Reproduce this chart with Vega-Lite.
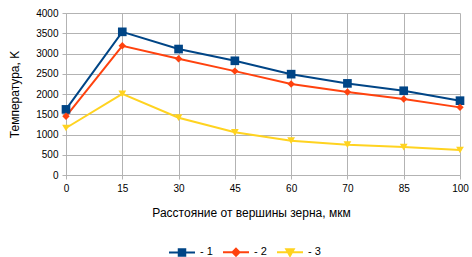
{
  "$schema": "https://vega.github.io/schema/vega-lite/v6.json",
  "width": 394,
  "height": 162,
  "autosize": "none",
  "padding": {"left": 66, "top": 13, "right": 12, "bottom": 82},
  "background": "white",
  "config": {
    "font": "Liberation Sans",
    "view": {"stroke": null},
    "axis": {
      "labelFont": "Liberation Sans",
      "titleFont": "Liberation Sans",
      "labelFontSize": 10,
      "titleFontSize": 12,
      "labelColor": "#000000",
      "titleColor": "#000000",
      "titleFontWeight": "normal",
      "gridColor": "#b3b3b3",
      "domainColor": "#b3b3b3",
      "tickColor": "#b3b3b3",
      "tickSize": 4
    },
    "legend": {"labelFont": "Liberation Sans", "labelFontSize": 11, "labelColor": "#000000"}
  },
  "data": {
    "values": [
      {"x": "0", "s": "- 1", "t": 1620},
      {"x": "15", "s": "- 1", "t": 3535},
      {"x": "30", "s": "- 1", "t": 3110},
      {"x": "45", "s": "- 1", "t": 2820},
      {"x": "60", "s": "- 1", "t": 2490},
      {"x": "70", "s": "- 1", "t": 2262},
      {"x": "85", "s": "- 1", "t": 2080},
      {"x": "100", "s": "- 1", "t": 1835},
      {"x": "0", "s": "- 2", "t": 1450},
      {"x": "15", "s": "- 2", "t": 3190},
      {"x": "30", "s": "- 2", "t": 2870},
      {"x": "45", "s": "- 2", "t": 2565},
      {"x": "60", "s": "- 2", "t": 2247},
      {"x": "70", "s": "- 2", "t": 2050},
      {"x": "85", "s": "- 2", "t": 1877},
      {"x": "100", "s": "- 2", "t": 1670},
      {"x": "0", "s": "- 3", "t": 1160},
      {"x": "15", "s": "- 3", "t": 2005},
      {"x": "30", "s": "- 3", "t": 1415},
      {"x": "45", "s": "- 3", "t": 1054},
      {"x": "60", "s": "- 3", "t": 847},
      {"x": "70", "s": "- 3", "t": 748},
      {"x": "85", "s": "- 3", "t": 690},
      {"x": "100", "s": "- 3", "t": 617}
    ]
  },
  "encoding": {
    "x": {
      "field": "x",
      "type": "ordinal",
      "sort": ["0", "15", "30", "45", "60", "70", "85", "100"],
      "scale": {"type": "point", "padding": 0},
      "axis": {
        "title": "Расстояние от вершины зерна, мкм",
        "labelAngle": 0,
        "grid": true,
        "labelPadding": 4,
        "titleX": 185,
        "titlePadding": 14
      }
    },
    "y": {
      "field": "t",
      "type": "quantitative",
      "scale": {"domain": [0, 4000], "nice": false},
      "axis": {
        "title": "Температура, K",
        "values": [0, 500, 1000, 1500, 2000, 2500, 3000, 3500, 4000],
        "format": "d",
        "grid": true,
        "labelPadding": 4,
        "titlePadding": 14
      }
    },
    "color": {
      "field": "s",
      "type": "nominal",
      "scale": {"domain": ["- 1", "- 2", "- 3"], "range": ["#004586", "#ff420e", "#ffd320"]},
      "legend": {
        "title": null,
        "orient": "none",
        "direction": "horizontal",
        "legendX": 110,
        "legendY": 233,
        "symbolSize": 100,
        "labelOffset": 12,
        "columnPadding": 6,
        "symbolStrokeWidth": 2,
        "symbolOpacity": 1,
        "encode": {
          "symbols": {
            "update": {
              "shape": {"signal": "datum.value == '- 1' ? 'M-2.6,0L2.6,0M-0.65,-0.65L0.65,-0.65L0.65,0.65L-0.65,0.65Z' : datum.value == '- 2' ? 'M-2.6,0L2.6,0M0,-0.7L0.7,0L0,0.7L-0.7,0Z' : 'M-2.6,0L2.6,0M-0.75,-0.6L0.75,-0.6L0,0.75Z'"},
              "strokeWidth": {"value": 2},
              "fillOpacity": {"value": 1},
              "strokeOpacity": {"value": 1},
              "opacity": {"value": 1}
            }
          }
        }
      }
    }
  },
  "layer": [
    {
      "mark": {"type": "line", "strokeWidth": 2}
    },
    {
      "transform": [{"filter": "datum.s == '- 1'"}],
      "mark": {"type": "point", "shape": "square", "size": 75, "filled": true, "opacity": 1}
    },
    {
      "transform": [{"filter": "datum.s == '- 2'"}],
      "mark": {"type": "point", "shape": "diamond", "size": 55, "filled": true, "opacity": 1}
    },
    {
      "transform": [{"filter": "datum.s == '- 3'"}],
      "mark": {"type": "point", "shape": "triangle-down", "size": 60, "filled": true, "opacity": 1}
    }
  ]
}
